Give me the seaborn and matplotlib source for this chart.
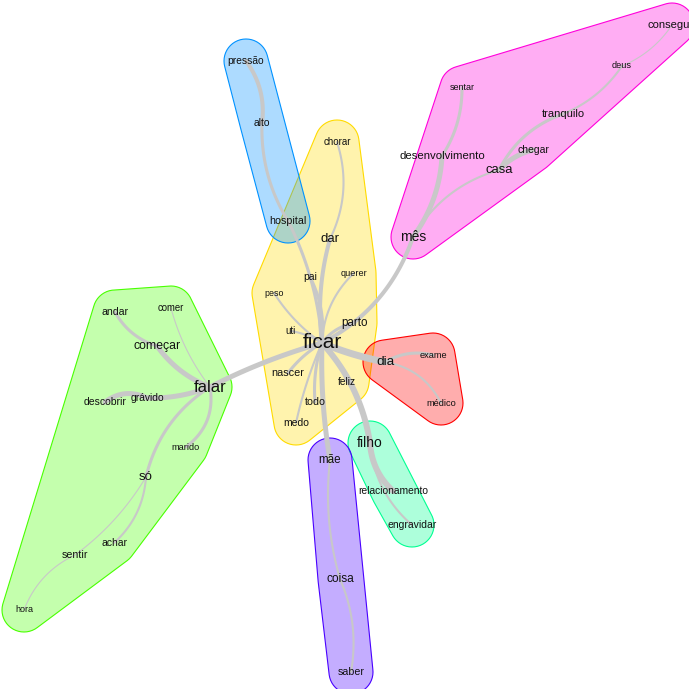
import numpy as np
import pandas as pd
import matplotlib
matplotlib.use("Agg")
import matplotlib.pyplot as plt
import seaborn as sns

# --- dados: palavras, posicoes (layout), tamanho da fonte, comunidade ---
palavras = ["ficar", "dar", "pai", "querer", "peso", "uti", "parto", "nascer", "feliz", "todo", "medo", "chorar",
            "pressão", "alto", "hospital",
            "mês", "desenvolvimento", "sentar", "casa", "chegar", "tranquilo", "deus", "conseguir",
            "dia", "exame", "médico",
            "filho", "relacionamento", "engravidar",
            "mãe", "coisa", "saber",
            "falar", "começar", "andar", "comer", "descobrir", "grávido", "marido", "só", "achar", "sentir", "hora"]
pos_x = [322, 330, 310, 354, 274, 291, 355, 288, 347, 315, 296, 337,
         246, 262, 288,
         413, 442, 462, 499, 533, 563, 622, 672,
         385, 433, 441,
         370, 393, 412,
         330, 340, 351,
         210, 157, 115, 171, 105, 147, 186, 146, 114, 75, 24]
pos_y = [343, 239, 277, 273, 293, 331, 323, 373, 382, 402, 423, 142,
         61, 123, 221,
         237, 156, 88, 170, 150, 114, 66, 25,
         362, 355, 403,
         443, 491, 525,
         460, 579, 672,
         387, 346, 312, 308, 402, 398, 447, 477, 543, 555, 610]
fonte = [15, 9.5, 7.5, 6.6, 6.4, 7, 8.4, 7.8, 7.3, 7.7, 7.5, 7,
         7.4, 7.4, 7.7,
         10, 8.2, 6.5, 9.4, 7.5, 8, 6.6, 8,
         9.7, 6.7, 6.7,
         10, 7.4, 7.5,
         8.4, 8.6, 7.7,
         12, 8.8, 7.6, 6.9, 7.5, 7.4, 6.6, 9.5, 7.5, 7.7, 6.5]
grupo = [0] * 12 + [1] * 3 + [2] * 8 + [3] * 3 + [4] * 3 + [5] * 3 + [6] * 11

# arestas: origem, destino, peso (espessura), curvatura
arestas = [("ficar", "falar", 5, 0.05), ("ficar", "dar", 4, -0.1), ("ficar", "pai", 3, 0.15),
           ("ficar", "hospital", 3, 0.1), ("dar", "chorar", 2, 0.2), ("hospital", "alto", 3, -0.15),
           ("alto", "pressão", 4, 0.2), ("ficar", "querer", 2, -0.2), ("ficar", "mês", 4, 0.2),
           ("ficar", "peso", 2, -0.1), ("ficar", "uti", 2, 0.1), ("ficar", "parto", 3, -0.2),
           ("ficar", "nascer", 3, 0.1), ("ficar", "feliz", 2, -0.1), ("ficar", "todo", 3, 0.1),
           ("ficar", "medo", 2, 0.05), ("ficar", "dia", 7, 0.05), ("ficar", "filho", 6, -0.15),
           ("ficar", "mãe", 5, 0.05), ("dia", "exame", 3, -0.2), ("dia", "médico", 2, -0.25),
           ("filho", "relacionamento", 6, 0.2), ("filho", "engravidar", 2, 0.2),
           ("mãe", "coisa", 2, 0.1), ("coisa", "saber", 2, -0.15),
           ("falar", "começar", 5, -0.15), ("começar", "andar", 3, -0.2), ("falar", "comer", 1, -0.1),
           ("falar", "grávido", 5, -0.1), ("grávido", "descobrir", 5, 0.3), ("falar", "marido", 3, -0.3),
           ("falar", "só", 3, 0.2), ("só", "achar", 2, -0.2), ("só", "sentir", 1, -0.1),
           ("sentir", "hora", 1, 0.2),
           ("mês", "desenvolvimento", 5, 0.15), ("desenvolvimento", "sentar", 3, 0.15),
           ("mês", "casa", 2, -0.2), ("casa", "chegar", 5, -0.15), ("casa", "tranquilo", 3, -0.2),
           ("tranquilo", "deus", 2, 0.15), ("deus", "conseguir", 1, 0.15)]

cores = ["#FFDB00", "#0092FF", "#FF00DB", "#FF0000", "#00FF92", "#4900FF", "#49FF00"]

nos = pd.DataFrame({"palavra": palavras, "x": pos_x, "y": pos_y, "fonte": fonte, "grupo": grupo})
idx = {p: i for i, p in enumerate(palavras)}

# curvas das arestas (bezier quadratica)
linhas = []
t = np.linspace(0, 1, 40)
for k, (a, b, w, c) in enumerate(arestas):
    p0 = np.array([pos_x[idx[a]], pos_y[idx[a]]], float)
    p2 = np.array([pos_x[idx[b]], pos_y[idx[b]]], float)
    d = p2 - p0
    p1 = (p0 + p2) / 2 + c * np.array([-d[1], d[0]])
    pts = ((1 - t) ** 2)[:, None] * p0 + (2 * (1 - t) * t)[:, None] * p1 + (t ** 2)[:, None] * p2
    linhas.append(pd.DataFrame({"x": pts[:, 0], "y": pts[:, 1], "aresta": k, "peso": w}))
linhas = pd.concat(linhas, ignore_index=True)


def casco(pts):
    pts = sorted(map(tuple, pts))
    def cross(o, a, b):
        return (a[0] - o[0]) * (b[1] - o[1]) - (a[1] - o[1]) * (b[0] - o[0])
    lo, hi = [], []
    for p in pts:
        while len(lo) >= 2 and cross(lo[-2], lo[-1], p) <= 0:
            lo.pop()
        lo.append(p)
    for p in reversed(pts):
        while len(hi) >= 2 and cross(hi[-2], hi[-1], p) <= 0:
            hi.pop()
        hi.append(p)
    return np.array(lo[:-1] + hi[:-1])


sns.set_theme(style="white")
fig, ax = plt.subplots(figsize=(6.89, 6.89), dpi=100)
fig.subplots_adjust(0, 0, 1, 1)

ang = np.linspace(0, 2 * np.pi, 48, endpoint=False)
for g, cor in enumerate(cores):
    sub = nos[nos.grupo == g]
    r = 22
    pts = np.vstack([np.c_[x + r * np.cos(ang), y + r * np.sin(ang)] for x, y in zip(sub.x, sub.y)])
    h = casco(pts)
    ax.fill(h[:, 0], h[:, 1], facecolor=cor, alpha=0.32, edgecolor="none", zorder=1)
    ax.fill(h[:, 0], h[:, 1], facecolor="none", edgecolor=cor, lw=0.8, zorder=1)

sns.lineplot(data=linhas, x="x", y="y", units="aresta", estimator=None, sort=False,
             size="peso", sizes=(0.8, 5.0), color="#c8c8c8", legend=False, ax=ax, zorder=2)

for _, n in nos.iterrows():
    ax.text(n.x, n.y, n.palavra, fontsize=n.fonte, family="Liberation Sans", color="#111111",
            ha="center", va="center", zorder=3)

ax.set_xlim(0, 689)
ax.set_ylim(689, 0)
ax.set_axis_off()
fig.savefig("out.png", dpi=100)
